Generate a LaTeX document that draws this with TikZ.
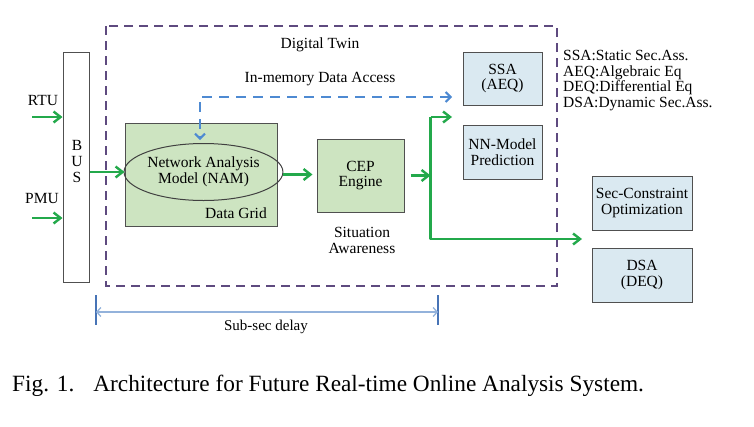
\documentclass[tikz,border=0pt]{standalone}
\usepackage{fontspec}
\setmainfont{Liberation Serif}
\usetikzlibrary{arrows.meta,shapes.geometric}
\definecolor{twinpurple}{HTML}{5E4A7F}
\definecolor{flowgreen}{HTML}{23A94B}
\definecolor{gridgreen}{HTML}{CDE4C1}
\definecolor{boxblue}{HTML}{DAE9F1}
\definecolor{boxgray}{HTML}{505050}
\definecolor{accessblue}{HTML}{4E8AD2}
\definecolor{delayblue}{HTML}{93B2DB}
\definecolor{barblue}{HTML}{4874B6}
\newcommand{\lblfont}{\fontsize{15.5}{15.5}\selectfont}
\tikzset{
  flow/.style={draw=flowgreen, line width=2.4pt, line join=round,
    -{Straight Barb[length=7pt,width=11pt,line width=2.4pt]}},
  access/.style={draw=accessblue, line width=2pt, dash pattern=on 10pt off 7pt,
    {Straight Barb[length=5pt,width=10pt]}-{Straight Barb[length=5pt,width=10pt]}},
  gridbox/.style={draw=boxgray, fill=gridgreen, line width=1pt},
  infobox/.style={draw=boxgray, fill=boxblue, line width=1pt, align=center, font=\lblfont},
  lbl/.style={font=\lblfont, align=center, inner sep=0pt}
}
\begin{document}
\begin{tikzpicture}[x=1pt,y=-1pt]
  \useasboundingbox (0,0) rectangle (754,426);
  % digital twin frame
  \draw[twinpurple, line width=2.2pt, dash pattern=on 9pt off 6pt] (106,26) rectangle (557,286);
  \node[lbl] (twinlbl) at (320,45) {Digital Twin};
  \node[lbl] (memlbl) at (320,79) {In-memory Data Access};
  % bus
  \node[draw=boxgray, fill=white, line width=1pt, minimum width=26pt, minimum height=230pt,
    inner sep=0pt] (bus) at (76,167) {};
  \node[lbl, font=\fontsize{15.5}{16}\selectfont] (buslbl) at (77,161) {B\\U\\S};
  \node[lbl] (rtu) at (43,100) {RTU};
  \node[lbl] (pmu) at (42,198) {PMU};
  \coordinate (rtuin) at (32,117);
  \coordinate (pmuin) at (32,218);
  % data grid
  \node[gridbox, minimum width=152pt, minimum height=103pt, inner sep=0pt] (grid) at (201,174.5) {};
  \node[draw=black!75, line width=1pt, ellipse, minimum width=124pt, minimum height=57pt,
    inner sep=0pt, lbl] (nam) at (203.5,172) {Network Analysis\\Model (NAM)};
  \node[lbl] (gridlbl) at (236,213) {Data Grid};
  % cep engine
  \node[gridbox, minimum width=87pt, minimum height=73pt, lbl] (cep) at (360.5,175.5) {CEP\\Engine};
  \node[lbl] (situation) at (362,240.5) {Situation\\Awareness};
  % analysis boxes
  \node[infobox, minimum width=79pt, minimum height=53pt, inner sep=0pt] (ssa) at (502.5,78.5) {SSA\\(AEQ)};
  \node[infobox, minimum width=79pt, minimum height=54pt, inner sep=0pt] (nn) at (502.5,152) {NN-Model\\Prediction};
  \node[infobox, minimum width=100pt, minimum height=54pt, inner sep=0pt] (sco) at (642,203) {Sec-Constraint\\Optimization};
  \node[infobox, minimum width=100pt, minimum height=54pt, inner sep=0pt] (dsa) at (642,275) {DSA\\(DEQ)};
  % legend
  \node[lbl, anchor=west, align=left, font=\fontsize{15.5}{15.7}\selectfont] (legend) at (563,80.5)
    {SSA:Static Sec.Ass.\\AEQ:Algebraic Eq\\DEQ:Differential Eq\\DSA:Dynamic Sec.Ass.};
  % green flow
  \coordinate (split) at ([xshift=26pt]cep.east);
  \coordinate (ssain) at (452,117);
  \coordinate (dsain) at (582,239);
  \draw[flow] (rtuin) -- (rtuin -| bus.west);
  \draw[flow] (pmuin) -- (pmuin -| bus.west);
  \draw[flow] (bus.east |- nam) -- (grid.west |- nam);
  \draw[flow] ([xshift=5pt]grid.east) -- ([xshift=-4pt]cep.west |- grid.east);
  \draw[flow] ([xshift=6pt]cep.east) -- (split);
  \draw[flow] (ssain -| split) -- (ssain);
  \draw[flow] (ssain -| split) -- (dsain -| split) -- (dsain);
  % memory access
  \coordinate (memend) at (452,97);
  \draw[access] (memend) -| ([xshift=-3.5pt,yshift=3pt]nam.north);
  % delay
  \coordinate (dl) at (96,312);
  \coordinate (dr) at (438,312);
  \draw[barblue, line width=1.8pt] ([yshift=17pt]dl) -- ([yshift=-13pt]dl);
  \draw[barblue, line width=1.8pt] ([yshift=17pt]dr) -- ([yshift=-13pt]dr);
  \draw[delayblue, line width=1.3pt, {Straight Barb[length=4pt,width=9pt]}-{Straight Barb[length=4pt,width=9pt]}] (dl) -- (dr);
  \node[lbl, font=\fontsize{15}{15}\selectfont] (delaylbl) at (266,327) {Sub-sec delay};
  % caption
  \node[anchor=base west, inner sep=0pt, font=\fontsize{23.3}{25}\selectfont] (caption) at (12,391)
    {Fig. 1.\hspace{19pt}Architecture for Future Real-time Online Analysis System.};
\end{tikzpicture}
\end{document}
